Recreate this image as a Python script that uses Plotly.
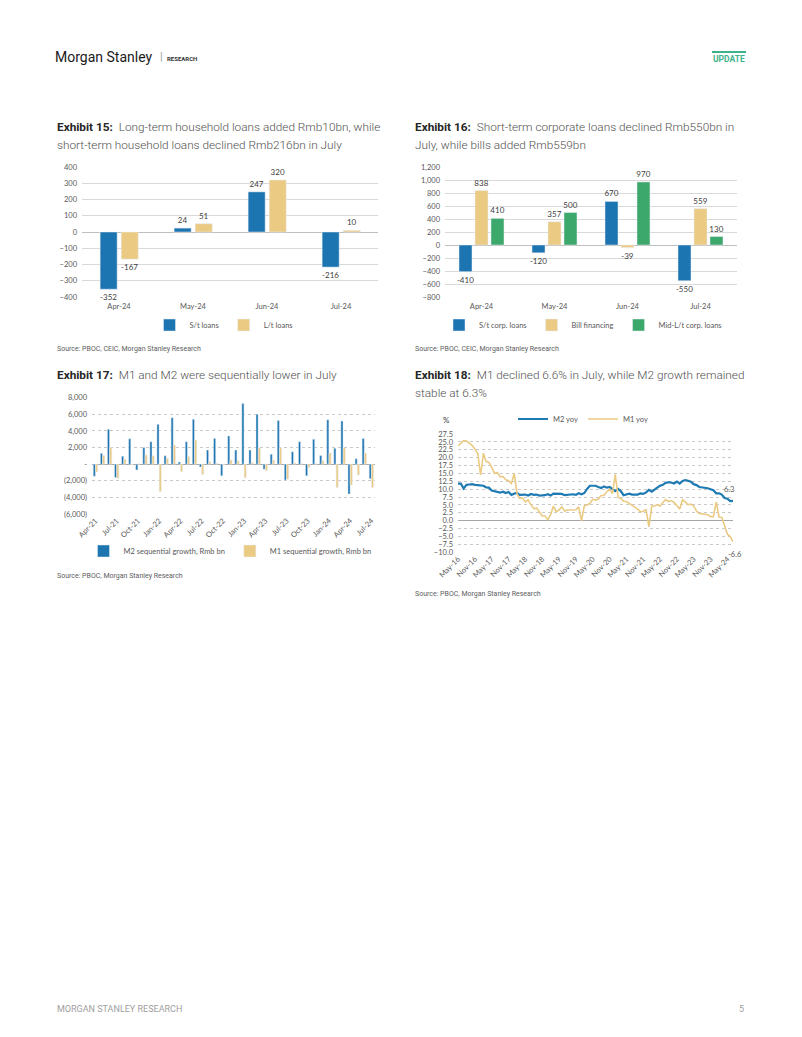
import pandas as pd
import plotly.graph_objects as go

W, H = 802, 1037


def px(x):
    return x / W


def py(y):
    return 1 - y / H


# ---------------- data ----------------
ex15_categories = ["Apr-24", "May-24", "Jun-24", "Jul-24"]
ex15_st_loans = [-352, 24, 247, -216]
ex15_lt_loans = [-167, 51, 320, 10]

ex16_categories = ["Apr-24", "May-24", "Jun-24", "Jul-24"]
ex16_st_corp = [-410, -120, 670, -550]
ex16_bill_fin = [838, 357, -39, 559]
ex16_mlt_corp = [410, 500, 970, 130]

ex17_months = [
    "Apr-21", "May-21", "Jun-21", "Jul-21", "Aug-21", "Sep-21", "Oct-21", "Nov-21", "Dec-21",
    "Jan-22", "Feb-22", "Mar-22", "Apr-22", "May-22", "Jun-22", "Jul-22", "Aug-22", "Sep-22",
    "Oct-22", "Nov-22", "Dec-22",
    "Jan-23", "Feb-23", "Mar-23", "Apr-23", "May-23", "Jun-23", "Jul-23", "Aug-23", "Sep-23",
    "Oct-23", "Nov-23", "Dec-23",
    "Jan-24", "Feb-24", "Mar-24", "Apr-24", "May-24", "Jun-24", "Jul-24",
]
ex17_m2 = [-1450, 1300, 4200, -1600, 950, 3050, -700, 2000, 2700, 4800, 1000, 5600, 250, 2700,
           5400, -350, 1700, 3100, -1400, 3400,
           1700, 7300, 1700, 6000, -600, 1200, 5250, -1900, 1500, 2700, -1400, 3000, 1050, 5350,
           1900, 5200, -3600, 650, 3100, -1750]
ex17_m1 = [-950, 1050, 2000, -1700, 600, -100, 50, 1100, 1000, -3300, 700, 2300, -900, 900,
           2900, -1250, 300, 100, -100, 500,
           400, -1650, 200, 1950, -800, 500, 1950, -1800, 150, 50, -400, 50, 400, 1350,
           -2800, 1950, -2500, -1300, 1350, -2800]
ex17_tickvals = [-6000, -4000, -2000, 0, 2000, 4000, 6000, 8000]
ex17_ticktext = ["(6,000)", "(4,000)", "(2,000)", "-", "2,000", "4,000", "6,000", "8,000"]

ex18_dates = pd.date_range("2016-05-01", "2024-07-01", freq="MS")
ex18_m2 = [11.8, 11.8, 10.2, 11.4, 11.5, 11.6, 11.4, 11.3,
           11.3, 11.1, 10.6, 10.5, 9.6, 9.4, 9.2, 8.9, 9.2, 8.8, 9.1, 8.2,
           8.6, 8.8, 8.2, 8.3, 8.3, 8.0, 8.5, 8.2, 8.3, 8.0, 8.0, 8.1,
           8.4, 8.0, 8.6, 8.5, 8.5, 8.5, 8.1, 8.2, 8.4, 8.4, 8.2, 8.7,
           8.4, 8.8, 10.1, 11.1, 11.1, 11.1, 10.7, 10.4, 10.9, 10.5, 10.7, 10.1,
           9.4, 10.1, 9.4, 8.1, 8.3, 8.6, 8.3, 8.2, 8.3, 8.7, 8.5, 9.0,
           9.8, 9.2, 9.7, 10.5, 11.1, 11.4, 12.0, 12.2, 12.1, 11.8, 12.4, 11.8,
           12.6, 12.9, 12.7, 12.4, 11.6, 11.3, 10.7, 10.6, 10.3, 10.3, 10.0, 9.7,
           8.7, 8.7, 8.3, 7.2, 7.0, 6.2, 6.3]
ex18_m1 = [23.7, 24.6, 25.4, 25.3, 24.7, 23.9, 22.7, 21.4,
           14.5, 21.4, 18.8, 18.5, 17.0, 15.0, 15.3, 14.0, 14.0, 13.0, 12.7, 11.8,
           15.0, 8.5, 7.1, 7.2, 6.0, 6.6, 5.1, 3.9, 4.0, 2.7, 1.5, 1.5,
           0.4, 2.0, 4.6, 2.9, 3.4, 4.4, 3.1, 3.4, 3.4, 3.3, 3.5, 4.4,
           0.0, 4.8, 5.0, 5.5, 6.8, 6.5, 6.9, 8.0, 8.1, 9.1, 10.0, 8.6,
           14.7, 7.4, 7.1, 6.2, 6.1, 5.5, 4.9, 4.2, 3.7, 2.8, 3.0, 3.5,
           -1.9, 4.7, 4.7, 5.1, 4.6, 5.8, 6.7, 6.1, 6.4, 5.8, 4.6, 3.7,
           6.7, 5.8, 5.1, 5.3, 4.7, 3.1, 2.3, 2.2, 2.1, 1.9, 1.3, 1.3,
           5.9, 1.2, 1.1, -1.4, -4.2, -5.0, -6.6]

# ---------------- styles ----------------
BLUE = "#1c74b0"
YELLOW = "#ebca83"
GREEN = "#3da86b"
TICK = dict(family="Lato, Open Sans, sans-serif", size=7.5, color="#595959")
LBL = dict(family="Lato, Open Sans, sans-serif", size=8, color="#404040")
LEG = dict(family="Lato, Open Sans, sans-serif", size=7.5, color="#595959")
TITLE_FONT = dict(family="Roboto, sans-serif", size=11.8, color="#505050", weight=300)
SRC_FONT = dict(family="Roboto, sans-serif", size=7, color="#606060")

fig = go.Figure()


def bar(x, y, name, color, width, offset, xa, ya, leg, labels=True):
    return go.Bar(
        x=x, y=y, name=name, marker_color=color, width=width, offset=offset,
        text=[str(v) for v in y] if labels else None,
        textposition="outside" if labels else "none",
        textfont=LBL, constraintext="none", cliponaxis=False,
        xaxis=xa, yaxis=ya, legend=leg, hoverinfo="skip",
    )


# Exhibit 15
fig.add_trace(bar(ex15_categories, ex15_st_loans, "S/t loans", BLUE, 0.23, -0.255, "x", "y", "legend"))
fig.add_trace(bar(ex15_categories, ex15_lt_loans, "L/t loans", YELLOW, 0.23, 0.03, "x", "y", "legend"))

# Exhibit 16
fig.add_trace(bar(ex16_categories, ex16_st_corp, "S/t corp. loans", BLUE, 0.178, -0.308, "x2", "y2", "legend2"))
fig.add_trace(bar(ex16_categories, ex16_bill_fin, "Bill financing", YELLOW, 0.178, -0.089, "x2", "y2", "legend2"))
fig.add_trace(bar(ex16_categories, ex16_mlt_corp, "Mid-L/t corp. loans", GREEN, 0.178, 0.130, "x2", "y2", "legend2"))

# Exhibit 17
fig.add_trace(bar(ex17_months, ex17_m2, "M2 sequential growth, Rmb bn", BLUE, 0.3, -0.32, "x3", "y3", "legend3", labels=False))
fig.add_trace(bar(ex17_months, ex17_m1, "M1 sequential growth, Rmb bn", YELLOW, 0.3, 0.0, "x3", "y3", "legend3", labels=False))

# Exhibit 18
fig.add_trace(go.Scatter(x=ex18_dates, y=ex18_m2, name="M2 yoy", mode="lines",
                         line=dict(color="#1f7ab4", width=2.2), xaxis="x4", yaxis="y4",
                         legend="legend4", hoverinfo="skip"))
fig.add_trace(go.Scatter(x=ex18_dates, y=ex18_m1, name="M1 yoy", mode="lines",
                         line=dict(color=YELLOW, width=1.6), xaxis="x4", yaxis="y4",
                         legend="legend4", hoverinfo="skip"))

# ---------------- axes ----------------
cat_x = dict(type="category", showgrid=False, ticks="", tickfont=TICK, showline=False, zeroline=False,
             fixedrange=True, automargin=False)
ybase = dict(tickfont=TICK, ticks="", showline=False, automargin=False, zeroline=True,
             zerolinewidth=1, gridwidth=1, fixedrange=True, ticklabelstandoff=4)

layout_axes = dict(
    xaxis=dict(cat_x, domain=[px(82), px(378)], anchor="y", range=[-0.5, 3.5], ticklabelstandoff=3),
    yaxis=dict(ybase, domain=[py(297), py(167)], anchor="x", range=[-400, 400], dtick=100,
               gridcolor="#d9d9d9", zerolinecolor="#bfbfbf"),
    xaxis2=dict(cat_x, domain=[px(445), px(737)], anchor="y2", range=[-0.5, 3.5], ticklabelstandoff=3),
    yaxis2=dict(ybase, domain=[py(297), py(167)], anchor="x2", range=[-800, 1200], dtick=200,
                tickformat=",", gridcolor="#d9d9d9", zerolinecolor="#bfbfbf"),
    xaxis3=dict(cat_x, domain=[px(92), px(375)], anchor="y3", range=[-0.5, len(ex17_months) - 0.5],
                tickmode="array", tickvals=ex17_months[::3], tickangle=-45),
    yaxis3=dict(ybase, domain=[py(514), py(397.7)], anchor="x3", range=[-6000, 8000],
                tickmode="array", tickvals=ex17_tickvals, ticktext=ex17_ticktext,
                gridcolor="#c8c8c8", griddash="dot", zerolinecolor="#a6a6a6"),
    xaxis4=dict(type="date", domain=[px(458), px(733)], anchor="y4",
                range=[ex18_dates[0], ex18_dates[-1]], tick0=ex18_dates[0], dtick="M6",
                tickformat="%b-%y", tickangle=-45, showgrid=False, ticks="", tickfont=TICK,
                showline=False, zeroline=False, automargin=False, fixedrange=True),
    yaxis4=dict(ybase, domain=[py(552.3), py(434)], anchor="x4", range=[-10, 27.5], dtick=2.5,
                tickformat=".1f", gridcolor="#c8c8c8", griddash="dot", zerolinecolor="#a6a6a6"),
)

leg_common = dict(orientation="h", font=LEG, bgcolor="rgba(0,0,0,0)", itemwidth=30,
                  yanchor="middle", xanchor="center", traceorder="normal")

# ---------------- text ----------------
annotations = []


def text(x, y, s, font, xanchor="left", yanchor="middle", **kw):
    annotations.append(dict(x=px(x), y=py(y), xref="paper", yref="paper", text=s,
                            showarrow=False, xanchor=xanchor, yanchor=yanchor, font=font,
                            align="left", **kw))


def title(x, y, num, s):
    text(x, y, f'<span style="color:#262626"><b>Exhibit {num}:</b></span>&nbsp;&nbsp;{s}', TITLE_FONT)


# header
text(53, 57, "Morgan Stanley", dict(family="Roboto, sans-serif", size=14, color="#1a1a1a"))
text(158, 57, "|", dict(family="Roboto, sans-serif", size=11, color="#9a9a9a"))
text(165, 58, "<b>RESEARCH</b>", dict(family="Roboto, sans-serif", size=6, color="#333333"))
text(729, 59, "<b>UPDATE</b>", dict(family="Roboto, sans-serif", size=8.5, color="#3db38b"), xanchor="center")

# titles
title(55, 127, 15, "Long-term household loans added Rmb10bn, while")
text(55, 145, "short-term household loans declined Rmb216bn in July", TITLE_FONT)
title(413, 127, 16, "Short-term corporate loans declined Rmb550bn in")
text(413, 145, "July, while bills added Rmb559bn", TITLE_FONT)
title(55, 375, 17, "M1 and M2 were sequentially lower in July")
title(413, 375, 18, "M1 declined 6.6% in July, while M2 growth remained")
text(413, 393, "stable at 6.3%", TITLE_FONT)

# sources
text(55, 349, "Source: PBOC, CEIC, Morgan Stanley Research", SRC_FONT)
text(413, 349, "Source: PBOC, CEIC, Morgan Stanley Research", SRC_FONT)
text(55, 576, "Source: PBOC, Morgan Stanley Research", SRC_FONT)
text(413, 594, "Source: PBOC, Morgan Stanley Research", SRC_FONT)

# footer
text(55, 1009, "MORGAN STANLEY RESEARCH", dict(family="Roboto, sans-serif", size=9, color="#a0a0a0"))
text(746, 1009, "5", dict(family="Roboto, sans-serif", size=9, color="#a0a0a0"), xanchor="right")

# exhibit 18 extras
text(441, 420, "%", dict(family="Lato, sans-serif", size=8, color="#404040"))
annotations.append(dict(x=ex18_dates[-1], y=ex18_m2[-1], xref="x4", yref="y4",
                        text=f"{ex18_m2[-1]:.1f}", showarrow=False, xanchor="center",
                        yanchor="bottom", yshift=5, xshift=-4, font=TICK))
annotations.append(dict(x=ex18_dates[-1], y=ex18_m1[-1], xref="x4", yref="y4",
                        text=f"{ex18_m1[-1]:.1f}", showarrow=False, xanchor="center",
                        yanchor="top", yshift=-6, xshift=2, font=TICK))

shapes = [
    dict(type="line", xref="paper", yref="paper", x0=px(712), x1=px(746), y0=py(52), y1=py(52),
         line=dict(color="#3db38b", width=2)),
]

fig.update_layout(
    width=W, height=H, autosize=False,
    margin=dict(l=0, r=0, t=0, b=0, pad=0),
    paper_bgcolor="white", plot_bgcolor="white",
    barmode="group",
    showlegend=True,
    legend=dict(leg_common, x=px(224), y=py(325)),
    legend2=dict(leg_common, x=px(583), y=py(325)),
    legend3=dict(leg_common, x=px(230), y=py(551)),
    legend4=dict(leg_common, x=px(583), y=py(419)),
    annotations=annotations,
    shapes=shapes,
    **layout_axes,
)

fig.write_html("out.html")
